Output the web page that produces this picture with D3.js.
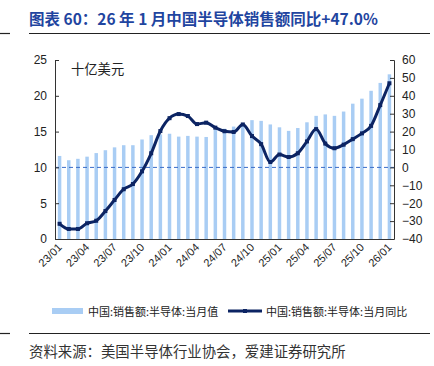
<!DOCTYPE html>
<html><head><meta charset="utf-8">
<script src="https://cdn.jsdelivr.net/npm/d3@7"></script>
<style>
html,body{margin:0;padding:0;background:#fff;}
svg{display:block;}
</style></head>
<body>
<svg id="c" width="434" height="366"></svg>
<script>
const months = ["23/01","23/02","23/03","23/04","23/05","23/06","23/07","23/08","23/09","23/10","23/11","23/12",
"24/01","24/02","24/03","24/04","24/05","24/06","24/07","24/08","24/09","24/10","24/11","24/12",
"25/01","25/02","25/03","25/04","25/05","25/06","25/07","25/08","25/09","25/10","25/11","25/12","26/01"];
const salesValue = [11.6,11.0,11.2,11.5,12.0,12.4,12.8,13.1,13.1,13.9,14.5,14.6,
14.7,14.3,14.4,14.3,14.25,15.3,15.4,15.7,15.9,16.6,16.5,16.0,
15.6,15.1,15.5,16.3,17.2,17.4,17.2,17.8,18.9,19.6,20.7,21.8,23.0];
const salesYoY = [-31.5,-34.4,-34.4,-31.2,-29.8,-24.4,-18.2,-12.2,-9.3,-2.2,7.9,20.3,
27.5,29.8,28.7,24.2,25.0,22.2,20.2,19.8,24.0,17.5,13.0,3.0,
7.2,5.8,7.9,14.5,21.4,13.3,10.7,12.7,15.8,19.0,23.2,34.8,47.0];
const leftTicks = [0,5,10,15,20,25];
const rightTicks = [-40,-30,-20,-10,0,10,20,30,40,50,60];
const xTickLabels = ["23/01","23/04","23/07","23/10","24/01","24/04","24/07","24/10","25/01","25/04","25/07","25/10","26/01"];
const titleText = "图表 60：26 年 1 月中国半导体销售额同比+47.0%";
const unitText = "十亿美元";
const legendBar = "中国:销售额:半导体:当月值";
const legendLine = "中国:销售额:半导体:当月同比";
const sourceText = "资料来源：美国半导体行业协会，爱建证券研究所";

const svg = d3.select("#c");
const cjk = "'Noto Sans CJK SC','Noto Sans',sans-serif";
const num = "'Liberation Sans',Arial,sans-serif";
const L = 55, R = 394, T = 60, B = 239;
const barColor = "#a9cdf4", lineColor = "#0c2463";

// title
svg.append("text").attr("x",29).attr("y",25).attr("font-family",cjk).attr("font-weight","bold")
  .attr("font-size","15.5px").attr("fill","#1f45a0").text(titleText);
svg.append("line").attr("x1",29).attr("x2",430).attr("y1",33.5).attr("y2",33.5).attr("stroke","#222").attr("stroke-width",1.2);
svg.append("line").attr("x1",0).attr("x2",10).attr("y1",33.5).attr("y2",33.5).attr("stroke","#222").attr("stroke-width",1.2);

const x = d3.scaleBand().domain(months).range([L,R]).paddingInner(0.62).paddingOuter(0.31);
const yL = d3.scaleLinear().domain([0,25]).range([B,T]);
const yR = d3.scaleLinear().domain([-40,60]).range([B,T]);

// bars
svg.append("g").selectAll("rect").data(months).join("rect")
  .attr("x",d=>x(d)).attr("width",x.bandwidth())
  .attr("y",(d,i)=>yL(salesValue[i])).attr("height",(d,i)=>yL(0)-yL(salesValue[i]))
  .attr("fill",barColor);

// dashed zero line
svg.append("line").attr("x1",L).attr("x2",R).attr("y1",yR(0)).attr("y2",yR(0))
  .attr("stroke","#3a6cc8").attr("stroke-width",1).attr("stroke-dasharray","4,3");

// line
const cx = d=>x(d)+x.bandwidth()/2;
const line = d3.line().x((d,i)=>cx(months[i])).y(d=>yR(d)).curve(d3.curveMonotoneX);
svg.append("path").datum(salesYoY).attr("d",line).attr("fill","none")
  .attr("stroke",lineColor).attr("stroke-width",3);
svg.append("g").selectAll("rect").data(salesYoY).join("rect")
  .attr("x",(d,i)=>cx(months[i])-2).attr("y",d=>yR(d)-2).attr("width",4).attr("height",4)
  .attr("fill",lineColor);

// axes
const axL = d3.axisLeft(yL).tickValues(leftTicks).tickSizeInner(-4).tickSizeOuter(-4).tickPadding(8);
const gL = svg.append("g").attr("transform",`translate(${L},0)`).call(axL);
const axR = d3.axisRight(yR).tickValues(rightTicks).tickSizeInner(-4).tickSizeOuter(-4).tickPadding(8);
const gR = svg.append("g").attr("transform",`translate(${R},0)`).call(axR);
[gL,gR].forEach(g=>{
  g.selectAll("path,line").attr("stroke","#333");
  g.selectAll("text").attr("font-family",num).attr("font-size","12px").attr("fill","#222");
});
svg.append("line").attr("x1",L).attr("x2",R).attr("y1",B+0.5).attr("y2",B+0.5).attr("stroke","#333");

// x labels
svg.append("g").selectAll("text").data(xTickLabels).join("text")
  .attr("transform",d=>`translate(${cx(d)+3},${B+9}) rotate(-45)`)
  .attr("text-anchor","end").attr("font-family",num).attr("font-size","11px").attr("fill","#222")
  .text(d=>d);

// unit
svg.append("text").attr("x",71).attr("y",74).attr("font-family",cjk).attr("font-size","13.3px").attr("fill","#222").text(unitText);

// legend
svg.append("rect").attr("x",52).attr("y",308).attr("width",31).attr("height",6).attr("fill",barColor);
svg.append("text").attr("x",88).attr("y",315.5).attr("font-family",cjk).attr("font-size","11px").attr("fill","#222").text(legendBar);
svg.append("line").attr("x1",228).attr("x2",262).attr("y1",311).attr("y2",311).attr("stroke",lineColor).attr("stroke-width",3);
svg.append("rect").attr("x",243).attr("y",309).attr("width",4).attr("height",4).attr("fill",lineColor);
svg.append("text").attr("x",266).attr("y",315.5).attr("font-family",cjk).attr("font-size","11px").attr("fill","#222").text(legendLine);

// source
svg.append("line").attr("x1",29).attr("x2",430).attr("y1",333.5).attr("y2",333.5).attr("stroke","#222").attr("stroke-width",1.2);
svg.append("line").attr("x1",0).attr("x2",10).attr("y1",333.5).attr("y2",333.5).attr("stroke","#222").attr("stroke-width",1.2);
svg.append("text").attr("x",29).attr("y",357).attr("font-family",cjk).attr("font-size","14.4px").attr("fill","#333").text(sourceText);
</script>
</body></html>
